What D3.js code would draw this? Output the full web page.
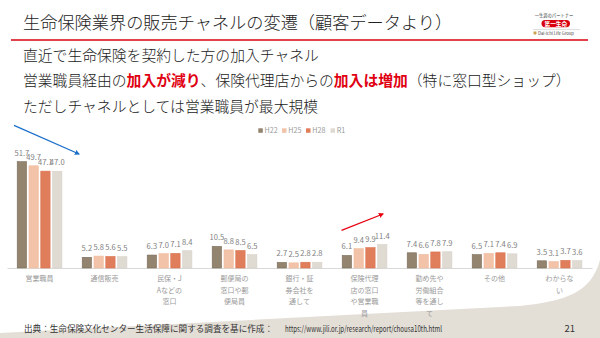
<!DOCTYPE html>
<html><head><meta charset="utf-8">
<script src="https://cdn.jsdelivr.net/npm/d3@7"></script>
<style>
html,body{margin:0;padding:0;background:#fff;}
svg{display:block;}
text{font-family:"Noto Sans CJK JP","Noto Sans",sans-serif;}
</style></head>
<body>
<svg id="c" width="600" height="338"></svg>
<script>
const categories = ["営業職員","通信販売","民保・JAなどの窓口","郵便局の窓口や郵便局員","銀行・証券会社を通して","保険代理店の窓口や営業職員","勤め先や労働組合等を通して","その他","わからない"];
const seriesNames = ["H22","H25","H28","R1"];
const H22 = [51.7,5.2,6.3,10.5,2.7,6.1,7.4,6.5,3.5];
const H25 = [49.7,5.8,7.0,8.8,2.5,9.4,6.6,7.1,3.1];
const H28 = [47.1,5.6,7.1,8.5,2.8,9.9,7.8,7.4,3.7];
const R1  = [47.0,5.5,8.4,6.5,2.8,11.4,7.9,6.9,3.6];
const seriesValues = [H22,H25,H28,R1];
const colors = ["#938470","#F2C3A8","#E07E5C","#DFDBD3"];
const strokes = ["#7b6c59","#efbb9f","#d9724f","#d8d3ca"];
const numFont = "'Liberation Sans Narrow','DejaVu Sans Condensed','Roboto',sans-serif";

const svg = d3.select("#c");

// background swoosh
svg.append("path")
  .attr("d","M0,333 L520,306 C566,301 591,293 600,260 L600,338 L0,338 Z")
  .attr("fill","#E3DED6");

// title
svg.append("text").attr("x",23).attr("y",28.5).attr("font-size",17.2).attr("font-weight",300)
  .attr("fill","#222").text("生命保険業界の販売チャネルの変遷（顧客データより）");
svg.append("line").attr("x1",11).attr("x2",588).attr("y1",40).attr("y2",40)
  .attr("stroke","#d9000f").attr("stroke-width",1.6);

// logo
const lg = svg.append("g");
lg.append("text").attr("x",554).attr("y",16.8).attr("text-anchor","middle").attr("font-size",4.3).attr("fill","#333").text("一生涯のパートナー");
lg.append("rect").attr("x",541.5).attr("y",20).attr("width",28.5).attr("height",7.2).attr("rx",3.6).attr("fill","#d9000f");
lg.append("text").attr("x",555.8).attr("y",26).attr("text-anchor","middle").attr("font-size",5.6).attr("font-weight",700).attr("fill","#fff").text("第一生命");
lg.append("line").attr("x1",533).attr("x2",580).attr("y1",29.6).attr("y2",29.6).attr("stroke","#bbb").attr("stroke-width",0.5);
lg.append("path").attr("d","M533.5,31.5 h3 v2 l-1.5,1.5 l-1.5,-1.5 z").attr("fill","#c9a24a");
lg.append("text").attr("x",538).attr("y",35).attr("font-size",4.2).attr("fill","#444").attr("font-family","Roboto,sans-serif").text("Dai-ichi Life Group");

// body text
const body = svg.append("g").attr("font-size",14.8).attr("font-weight",300).attr("fill","#222");
body.append("text").attr("x",23).attr("y",60.5).text("直近で生命保険を契約した方の加入チャネル");
const l2 = body.append("text").attr("x",23).attr("y",86);
l2.append("tspan").text("営業職員経由の");
l2.append("tspan").attr("fill","#e00012").attr("font-weight",700).text("加入が減り");
l2.append("tspan").text("、保険代理店からの");
l2.append("tspan").attr("fill","#e00012").attr("font-weight",700).text("加入は増加");
l2.append("tspan").text("（特に窓口型ショップ）");
body.append("text").attr("x",23).attr("y",111.5).text("ただしチャネルとしては営業職員が最大規模");

// chart scales
const x0 = d3.scaleBand().domain(categories).range([7,592]).paddingInner(0).paddingOuter(0);
const x1 = d3.scaleBand().domain(seriesNames).range([10.2,54.9]).paddingInner(0.21).paddingOuter(0);
const y = d3.scaleLinear().domain([0,60]).range([268,144.6]);

const chart = svg.append("g");
const xAxis = d3.axisBottom(x0).tickSize(0).tickFormat("");
const ax = chart.append("g").attr("transform","translate(0,268)").call(xAxis);
ax.select(".domain").attr("stroke","#d9d9d9").attr("stroke-width",1);

const groups = chart.selectAll("g.grp").data(categories).join("g").attr("class","grp")
  .attr("transform",d=>`translate(${x0(d)},0)`);

seriesNames.forEach((s,si)=>{
  groups.append("rect")
    .attr("x",x1(s)).attr("width",x1.bandwidth())
    .attr("y",(d,i)=>y(seriesValues[si][i]))
    .attr("height",(d,i)=>y(0)-y(seriesValues[si][i]))
    .attr("fill",colors[si]).attr("stroke",strokes[si]).attr("stroke-width",0.6);
  groups.append("text")
    .attr("x",x1(s)+x1.bandwidth()/2)
    .attr("y",(d,i)=>y(seriesValues[si][i])-6)
    .attr("text-anchor","middle").attr("font-size",7.6).attr("fill","#7f7f7f")
    .attr("font-family",numFont)
    .text((d,i)=>seriesValues[si][i].toFixed(1));
});

// category labels wrapped every 4 chars
groups.each(function(d){
  const g = d3.select(this);
  const lines = [];
  for(let k=0;k<d.length;k+=4) lines.push(d.slice(k,k+4));
  lines.forEach((ln,li)=>{
    g.append("text").attr("x",x0.bandwidth()/2).attr("y",281+li*11.7)
      .attr("text-anchor","middle").attr("font-size",7).attr("fill","#9a9a9a").text(ln);
  });
});

// legend
const leg = svg.append("g");
const legX = [258.3,282,306,330.5];
seriesNames.forEach((s,i)=>{
  leg.append("rect").attr("x",legX[i]).attr("y",128.3).attr("width",4.5).attr("height",4.5).attr("fill",colors[i]);
  leg.append("text").attr("x",legX[i]+6.2).attr("y",133.3).attr("font-size",7.2).attr("fill","#9a9a9a")
    .attr("font-family",numFont).text(s);
});

// arrows
const defs = svg.append("defs");
[["ab","#1a6fc9"],["ar","#e8000f"]].forEach(([id,c])=>{
  defs.append("marker").attr("id",id).attr("viewBox","0 0 10 10").attr("refX",8).attr("refY",5)
    .attr("markerWidth",4).attr("markerHeight",4).attr("orient","auto")
    .append("path").attr("d","M0,0 L10,5 L0,10 z").attr("fill",c);
});
svg.append("line").attr("x1",14).attr("y1",125.3).attr("x2",79).attr("y2",154)
  .attr("stroke","#1a6fc9").attr("stroke-width",1.3).attr("marker-end","url(#ab)");
svg.append("line").attr("x1",341.5).attr("y1",230.3).attr("x2",383).attr("y2",214)
  .attr("stroke","#e8000f").attr("stroke-width",1.3).attr("marker-end","url(#ar)");

// footer
svg.append("text").attr("x",24).attr("y",332).attr("font-size",8.6).attr("fill","#333")
  .attr("textLength",249).attr("lengthAdjust","spacingAndGlyphs")
  .text("出典：生命保険文化センター生活保障に関する調査を基に作成：");
svg.append("text").attr("x",285).attr("y",332).attr("font-size",8.6).attr("fill","#333")
  .attr("font-family",numFont)
  .attr("textLength",157).attr("lengthAdjust","spacingAndGlyphs")
  .text("https://www.jili.or.jp/research/report/chousa10th.html");
svg.append("text").attr("x",575).attr("y",332).attr("text-anchor","end").attr("font-size",9.5).attr("fill","#333")
  .attr("font-family","'Open Sans','Noto Sans',sans-serif").text("21");
</script>
</body></html>
